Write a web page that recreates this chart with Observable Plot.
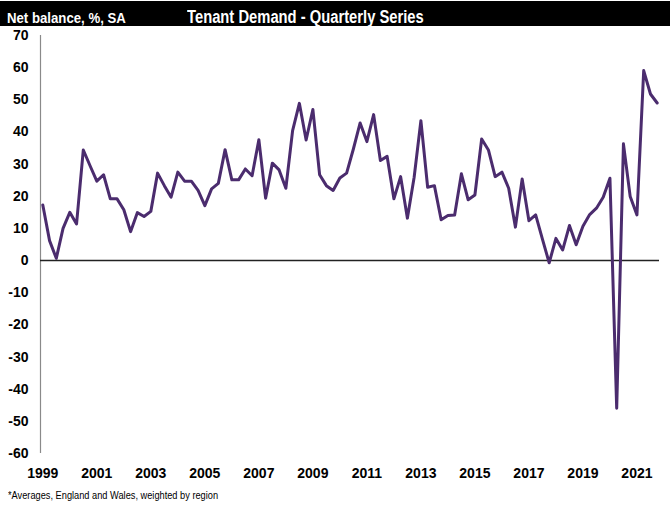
<!DOCTYPE html>
<html>
<head>
<meta charset="utf-8">
<script src="https://cdn.jsdelivr.net/npm/d3@7"></script>
<script src="https://cdn.jsdelivr.net/npm/@observablehq/plot@0.6"></script>
<style>
  html, body { margin: 0; padding: 0; background: #fff; }
  #wrap { position: relative; width: 670px; height: 506px; overflow: hidden; background: #fff;
          font-family: "Liberation Sans Narrow", "Arial Narrow", "Liberation Sans", Arial, sans-serif; }
  #band { position: absolute; left: 0; top: 1px; width: 670px; height: 25px; background: #000; }
  .hdr { position: absolute; color: #fff; font-weight: bold; white-space: nowrap; transform: scaleX(0.82); transform-origin: left center; }
  #ylab { left: 7px; top: 10px; font-size: 15px; line-height: 15px; transform: scaleX(0.88); }
  #title { left: 187px; top: 8px; font-size: 18px; line-height: 18px; }
  #chart { position: absolute; left: 0; top: 26px; }
  #caption { position: absolute; left: 8px; top: 490px; font-size: 11px; line-height: 11px; color: #000; white-space: nowrap; transform: scaleX(0.84); transform-origin: left center; }
</style>
</head>
<body>
<div id="wrap">
  <div id="band"></div>
  <div class="hdr" id="ylab"></div>
  <div class="hdr" id="title"></div>
  <div id="chart"></div>
  <div id="caption"></div>
</div>
<script>
const yAxisTitle = "Net balance, %, SA";
const chartTitle = "Tenant Demand - Quarterly Series";
const captionText = "*Averages, England and Wales, weighted by region";

const firstYear = 1999; // series starts Q1 1999, quarterly
const values = [
  17.3, 6.2, 0.7, 10,      // 1999
  15, 11.4, 34.4, 29.5,    // 2000
  24.7, 26.7, 19.2, 19.2,  // 2001
  15.8, 9, 14.9, 13.7,     // 2002
  15.3, 27.2, 23.3, 19.7,  // 2003
  27.5, 24.7, 24.7, 21.8,  // 2004
  17.1, 22.3, 24, 34.5,    // 2005
  25.1, 25.1, 28.5, 26.4,  // 2006
  37.6, 19.4, 30.3, 28.2,  // 2007
  22.5, 40.4, 48.9, 37.5,  // 2008
  47, 26.7, 23.3, 21.8,    // 2009
  25.7, 27.2, 34.7, 42.8,  // 2010
  37, 45.4, 31.1, 32.4,    // 2011
  19.2, 26.1, 13.2, 25.9,  // 2012
  43.5, 22.8, 23.3, 12.7,  // 2013
  14, 14.2, 27, 18.9,      // 2014
  20.4, 37.8, 34.4, 26.1,  // 2015
  27.5, 22.5, 10.4, 25.4,  // 2016
  12.4, 14.2, 6.7, -0.7,   // 2017
  6.9, 3.3, 10.9, 4.9,     // 2018
  10.7, 14.3, 16.3, 19.7,  // 2019
  25.6, -45.9, 36.3, 19.9, // 2020
  14.2, 59.1, 51.8, 49     // 2021
];
const xTicks = [1999, 2001, 2003, 2005, 2007, 2009, 2011, 2013, 2015, 2017, 2019, 2021];
const yTicks = [-60, -50, -40, -30, -20, -10, 0, 10, 20, 30, 40, 50, 60, 70];

document.getElementById("ylab").textContent = yAxisTitle;
document.getElementById("title").textContent = chartTitle;
document.getElementById("caption").textContent = captionText;

const data = values.map((v, i) => ({t: firstYear + i / 4, v}));
const xDomain = [1998.915, 2021.835];

const chart = Plot.plot({
  width: 670,
  height: 459,
  marginLeft: 40,
  marginRight: 11,
  marginTop: 9,
  marginBottom: 32,
  x: {domain: xDomain},
  y: {domain: [-60, 70]},
  style: {
    fontFamily: '"Liberation Sans Narrow", "Arial Narrow", "Liberation Sans", Arial, sans-serif',
    fontSize: "14px",
    fontWeight: "bold",
    color: "#000",
    background: "transparent",
    overflow: "visible"
  },
  marks: [
    Plot.ruleX([xDomain[0]], {stroke: "#8a8a8a", strokeWidth: 1.2}),
    Plot.ruleY([0], {stroke: "#222", strokeWidth: 1.5}),
    Plot.line(data, {x: "t", y: "v", stroke: "#4b2c6e", strokeWidth: 3, strokeLinejoin: "round"}),
    Plot.axisX({ticks: xTicks, tickFormat: d => String(d), tickSize: 0, tickPadding: 15, label: null, fontSize: 14, fontWeight: "bold", ariaLabel: "x-axis"}),
    Plot.axisY({ticks: yTicks, tickFormat: d => String(d), tickSize: 0, tickPadding: 12, label: null, fontSize: 14, fontWeight: "bold", ariaLabel: "y-axis"})
  ]
});
// emulate a narrow face: condense the tick labels horizontally
chart.querySelectorAll('g[aria-label="x-axis"] text').forEach(t => {
  t.style.transformBox = "fill-box";
  t.style.transformOrigin = "center";
  t.style.transform = "scaleX(0.84)";
});
chart.querySelectorAll('g[aria-label="y-axis"] text').forEach(t => {
  t.style.transformBox = "fill-box";
  t.style.transformOrigin = "right center";
  t.style.transform = "scaleX(0.84)";
});
document.getElementById("chart").appendChild(chart);
</script>
</body>
</html>
